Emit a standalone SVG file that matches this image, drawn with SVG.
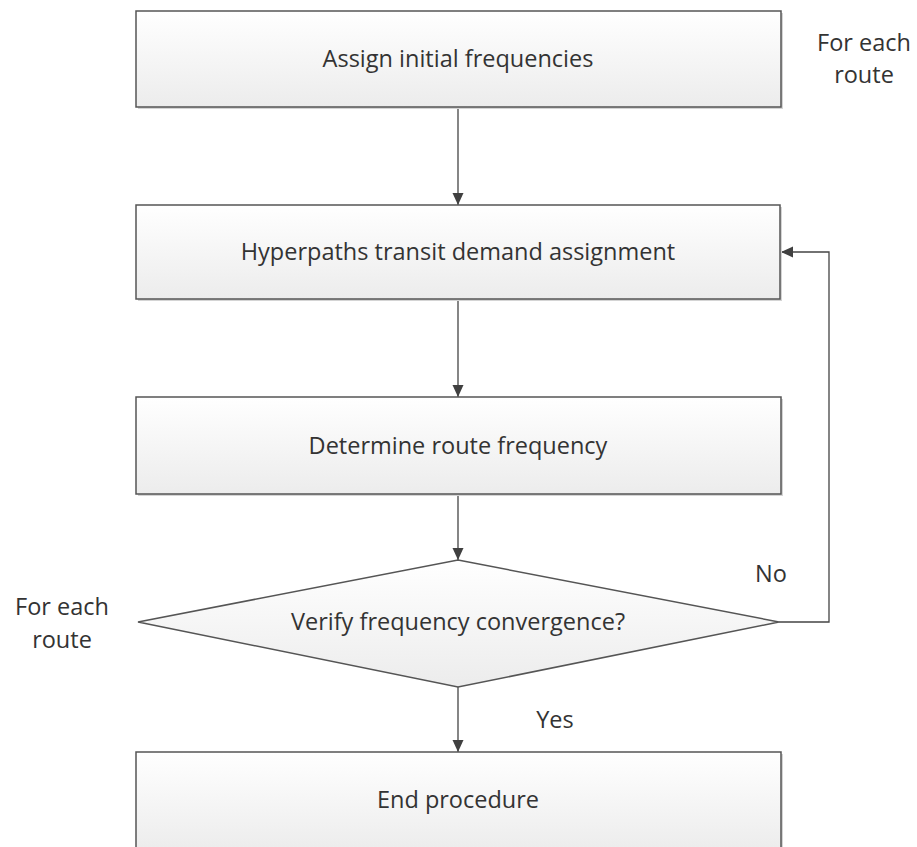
<svg xmlns="http://www.w3.org/2000/svg" width="917" height="847" viewBox="0 0 917 847">
  <defs>
    <linearGradient id="fillGrad" x1="0" y1="0" x2="0" y2="1">
      <stop offset="0" stop-color="#ffffff"/>
      <stop offset="1" stop-color="#ececec"/>
    </linearGradient>
    <marker id="arrow" viewBox="0 0 12 12" refX="12" refY="6" markerWidth="12" markerHeight="12" markerUnits="userSpaceOnUse" orient="auto">
      <path d="M0,0.5 L12,6 L0,11.5 Z" fill="#404040"/>
    </marker>
  </defs>
  <style>
    .shape { fill: url(#fillGrad); stroke: #555555; stroke-width: 1.5; }
    .shadow { fill: #d4d4d4; }
    .label { font-family: "Open Sans", "Liberation Sans", sans-serif; font-size: 23.5px; fill: #333333; text-anchor: middle; }
    .conn { fill: none; stroke: #444444; stroke-width: 1.3; }
  </style>
  <rect width="917" height="847" fill="#ffffff"/>

  <g id="connectors">
    <line class="conn" x1="458" y1="107" x2="458" y2="205" marker-end="url(#arrow)"/>
    <line class="conn" x1="458" y1="299" x2="458" y2="397" marker-end="url(#arrow)"/>
    <line class="conn" x1="458" y1="494" x2="458" y2="560" marker-end="url(#arrow)"/>
    <line class="conn" x1="458" y1="687" x2="458" y2="752" marker-end="url(#arrow)"/>
    <polyline class="conn" points="779,622 829,622 829,252 781,252" marker-end="url(#arrow)"/>
  </g>

  <g id="assign-initial">
    <rect class="shadow" x="138" y="13" width="645" height="96"/>
    <rect class="shape" x="136" y="11" width="645" height="96"/>
    <text class="label" x="458" y="67">Assign initial frequencies</text>
  </g>

  <g id="hyperpaths">
    <rect class="shadow" x="138" y="207" width="644" height="94"/>
    <rect class="shape" x="136" y="205" width="644" height="94"/>
    <text class="label" x="458" y="260">Hyperpaths transit demand assignment</text>
  </g>

  <g id="determine-frequency">
    <rect class="shadow" x="138" y="399" width="645" height="97"/>
    <rect class="shape" x="136" y="397" width="645" height="97"/>
    <text class="label" x="458" y="454">Determine route frequency</text>
  </g>

  <g id="verify-convergence">
    <polygon class="shape" points="458,560 779,622 458,687 138,622"/>
    <text class="label" x="458" y="630">Verify frequency convergence?</text>
  </g>

  <g id="end-procedure">
    <rect class="shadow" x="138" y="754" width="645" height="100"/>
    <rect class="shape" x="136" y="752" width="645" height="100"/>
    <text class="label" x="458" y="808">End procedure</text>
  </g>

  <g id="notes">
    <text class="label" x="864" y="51">For each</text>
    <text class="label" x="864" y="83">route</text>
    <text class="label" x="62" y="615">For each</text>
    <text class="label" x="62" y="648">route</text>
    <text class="label" x="771" y="582">No</text>
    <text class="label" x="555" y="728">Yes</text>
  </g>
</svg>
